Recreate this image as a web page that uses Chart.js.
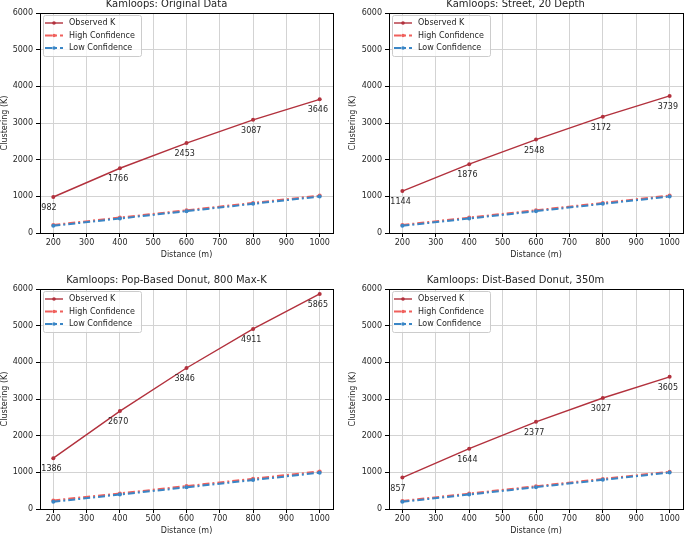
<!DOCTYPE html>
<html>
<head>
<meta charset="utf-8">
<script src="https://cdn.jsdelivr.net/npm/chart.js@4/dist/chart.umd.min.js"></script>
<style>
  html, body { margin: 0; padding: 0; background: #fff; overflow: hidden; }
  body { width: 685px; height: 535px; position: relative; }
  .cv { position: absolute; }
</style>
</head>
<body>
<canvas id="c0" class="cv" width="346" height="270" style="left:0px;top:-8px;"></canvas>
<canvas id="c1" class="cv" width="356" height="270" style="left:340px;top:-8px;"></canvas>
<canvas id="c2" class="cv" width="346" height="270" style="left:0px;top:268px;"></canvas>
<canvas id="c3" class="cv" width="356" height="270" style="left:340px;top:268px;"></canvas>
<script>
// ---- data ----
const distances = [200, 400, 600, 800, 1000];
const xTickLabels = [200, 300, 400, 500, 600, 700, 800, 900, 1000];
const yTickLabels = [0, 1000, 2000, 3000, 4000, 5000, 6000];
const titles = [
  "Kamloops: Original Data",
  "Kamloops: Street, 20 Depth",
  "Kamloops: Pop-Based Donut, 800 Max-K",
  "Kamloops: Dist-Based Donut, 350m"
];
const observedOriginal = [982, 1766, 2453, 3087, 3646];
const observedStreet = [1144, 1876, 2548, 3172, 3739];
const observedPopDonut = [1386, 2670, 3846, 4911, 5865];
const observedDistDonut = [857, 1644, 2377, 3027, 3605];
const highOriginal = [220, 420, 620, 820, 1020];
const highStreet = [220, 420, 620, 820, 1020];
const highPopDonut = [235, 425, 625, 825, 1025];
const highDistDonut = [220, 420, 620, 820, 1015];
const lowOriginal = [195, 395, 595, 795, 995];
const lowStreet = [195, 395, 595, 795, 995];
const lowPopDonut = [195, 395, 590, 790, 990];
const lowDistDonut = [195, 395, 595, 795, 995];
const seriesNames = ["Observed K", "High Confidence", "Low Confidence"];

const observedAll = [observedOriginal, observedStreet, observedPopDonut, observedDistDonut];
const highAll = [highOriginal, highStreet, highPopDonut, highDistDonut];
const lowAll = [lowOriginal, lowStreet, lowPopDonut, lowDistDonut];

// ---- styles ----
const FONT = "'DejaVu Sans', sans-serif";
const TXT = '#262626';
const COL_OBS = '#b2313d';
const COL_HIGH = '#f0605c';
const COL_LOW = '#3a86c6';

const pts = arr => distances.map((d, i) => ({ x: d, y: arr[i] }));

const framePlugin = {
  id: 'frame',
  afterDraw(chart) {
    const a = chart.chartArea, ctx = chart.ctx;
    ctx.save();
    ctx.strokeStyle = '#000';
    ctx.lineWidth = 1;
    ctx.strokeRect(Math.round(a.left) + 0.5, Math.round(a.top) + 0.5,
      Math.round(a.right - a.left), Math.round(a.bottom - a.top));
    ctx.restore();
  }
};

const annotPlugin = {
  id: 'annot',
  afterDatasetsDraw(chart) {
    const ctx = chart.ctx, xs = chart.scales.x, ys = chart.scales.y;
    const ds = chart.data.datasets[0];
    ctx.save();
    ctx.font = '8px ' + FONT;
    ctx.fillStyle = TXT;
    ctx.textAlign = 'left';
    ctx.textBaseline = 'middle';
    ds.data.forEach(p => {
      const px = xs.getPixelForValue(p.x), py = ys.getPixelForValue(p.y);
      ctx.fillText(String(p.y), px - 12, py + 11);
    });
    ctx.restore();
  }
};

const legendPlugin = {
  id: 'inlegend',
  afterDraw(chart) {
    const ctx = chart.ctx, a = chart.chartArea;
    const bx = Math.round(a.left) + 3, by = Math.round(a.top) + 2, bw = 98, bh = 41;
    ctx.save();
    ctx.fillStyle = 'rgba(255,255,255,0.8)';
    ctx.strokeStyle = '#cccccc';
    ctx.lineWidth = 1;
    ctx.beginPath();
    ctx.roundRect(bx + 0.5, by + 0.5, bw, bh, 2);
    ctx.fill();
    ctx.stroke();
    chart.data.datasets.forEach((ds, i) => {
      const y = by + 8 + i * 12.5;
      ctx.strokeStyle = ds.borderColor;
      ctx.lineWidth = ds.borderWidth;
      ctx.setLineDash(ds.borderDash || []);
      ctx.beginPath();
      ctx.moveTo(bx + 2, y);
      ctx.lineTo(bx + 20, y);
      ctx.stroke();
      ctx.setLineDash([]);
      ctx.fillStyle = ds.borderColor;
      ctx.beginPath();
      ctx.arc(bx + 11, y, 1.8, 0, Math.PI * 2);
      ctx.fill();
      ctx.font = '8px ' + FONT;
      ctx.fillStyle = TXT;
      ctx.textAlign = 'left';
      ctx.textBaseline = 'middle';
      ctx.fillText(ds.label, bx + 26, y);
    });
    ctx.restore();
  }
};

function makeChart(idx, isRight) {
  const ctx = document.getElementById('c' + idx);
  new Chart(ctx, {
    type: 'line',
    data: {
      datasets: [
        { label: seriesNames[0], data: pts(observedAll[idx]), borderColor: COL_OBS, backgroundColor: COL_OBS,
          borderWidth: 1.4, pointRadius: 2, pointBorderWidth: 0, order: 2, tension: 0 },
        { label: seriesNames[1], data: pts(highAll[idx]), borderColor: COL_HIGH, backgroundColor: COL_HIGH,
          borderWidth: 2, borderDash: [7, 3, 2, 3], pointRadius: 2, pointBorderWidth: 0, order: 1, tension: 0 },
        { label: seriesNames[2], data: pts(lowAll[idx]), borderColor: COL_LOW, backgroundColor: COL_LOW,
          borderWidth: 2, borderDash: [7, 3, 2, 3], pointRadius: 2, pointBorderWidth: 0, order: 0, tension: 0 }
      ]
    },
    options: {
      responsive: false,
      animation: false,
      devicePixelRatio: 1,
      layout: { padding: { left: isRight ? 8 : 0, right: 13, top: 0, bottom: 0 } },
      plugins: {
        legend: { display: false },
        tooltip: { enabled: false },
        title: {
          display: true, text: titles[idx], color: TXT,
          font: { family: FONT, size: 10, weight: 'normal', lineHeight: 1.2 },
          padding: { top: 6, bottom: 3 }
        }
      },
      scales: {
        x: {
          type: 'linear', min: 160, max: 1040,
          afterBuildTicks: s => { s.ticks = xTickLabels.map(v => ({ value: v })); },
          afterFit: s => { s.height = 29; },
          grid: { color: '#d3d3d3', lineWidth: 1, tickLength: 4, tickColor: '#000', drawTicks: true },
          border: { display: false },
          ticks: { color: TXT, font: { family: FONT, size: 8 }, padding: 1, maxRotation: 0, autoSkip: false,
                   callback: v => String(v) },
          title: { display: true, text: 'Distance (m)', color: TXT, font: { family: FONT, size: 8 }, padding: { top: 0, bottom: 2 } }
        },
        y: {
          type: 'linear', min: 0, max: 6000,
          afterBuildTicks: s => { s.ticks = yTickLabels.map(v => ({ value: v })); },
          afterFit: s => { s.width = isRight ? 41 : 40; },
          grid: { color: '#d3d3d3', lineWidth: 1, tickLength: 4, tickColor: '#000', drawTicks: true },
          border: { display: false },
          ticks: { color: TXT, font: { family: FONT, size: 8 }, padding: 3, autoSkip: false,
                   callback: v => String(v) },
          title: { display: true, text: 'Clustering (K)', color: TXT, font: { family: FONT, size: 8 }, padding: 0 }
        }
      }
    },
    plugins: [framePlugin, annotPlugin, legendPlugin]
  });
}
for (let i = 0; i < 4; i++) makeChart(i, i % 2 === 1);
</script>
</body>
</html>
